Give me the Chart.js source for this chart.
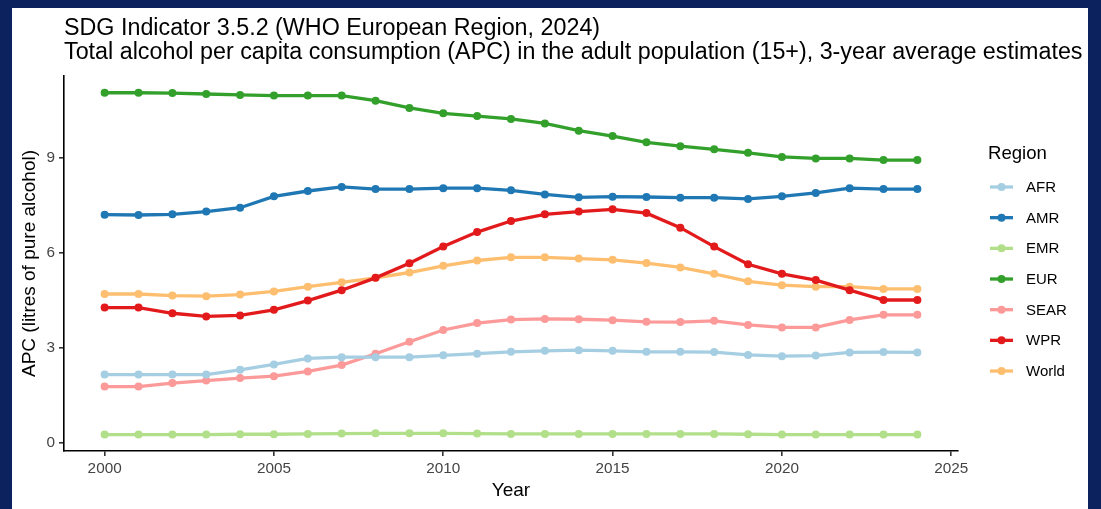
<!DOCTYPE html>
<html>
<head>
<meta charset="utf-8">
<script src="https://cdn.jsdelivr.net/npm/chart.js@4"></script>
<style>
  html, body { margin: 0; padding: 0; background: #0c225f; width: 1101px; height: 509px; overflow: hidden; }
  .panel { position: absolute; left: 12px; top: 8px; width: 1076px; height: 501px; background: #fff; }
  canvas { display: block; }
</style>
</head>
<body>
<div class="panel"><canvas id="myChart" width="1076" height="501"></canvas></div>
<script>
// years and regional APC values (litres of pure alcohol)
const years = [2000,2001,2002,2003,2004,2005,2006,2007,2008,2009,2010,2011,2012,2013,2014,2015,2016,2017,2018,2019,2020,2021,2022,2023,2024]

const afr  = [2.15,2.15,2.15,2.15,2.30,2.47,2.66,2.70,2.70,2.70,2.76,2.81,2.87,2.90,2.92,2.90,2.87,2.87,2.86,2.77,2.73,2.75,2.85,2.86,2.85]
const amr  = [7.21,7.20,7.22,7.31,7.43,7.79,7.96,8.09,8.02,8.02,8.05,8.05,7.98,7.85,7.76,7.78,7.77,7.75,7.75,7.71,7.79,7.90,8.05,8.02,8.02]
const emr  = [0.25,0.25,0.25,0.25,0.26,0.26,0.27,0.28,0.29,0.29,0.29,0.28,0.27,0.27,0.27,0.27,0.27,0.27,0.27,0.26,0.25,0.25,0.25,0.25,0.25]
const eur  = [11.07,11.07,11.06,11.03,11.00,10.98,10.98,10.98,10.82,10.59,10.42,10.33,10.24,10.10,9.87,9.70,9.50,9.38,9.28,9.17,9.04,8.99,8.99,8.94,8.94]
const sear = [1.77,1.77,1.88,1.96,2.04,2.10,2.25,2.45,2.81,3.19,3.56,3.78,3.89,3.91,3.90,3.87,3.82,3.81,3.85,3.72,3.64,3.64,3.88,4.04,4.04]
const wpr  = [4.27,4.27,4.09,3.99,4.02,4.20,4.49,4.82,5.21,5.67,6.20,6.66,7.01,7.22,7.31,7.38,7.26,6.80,6.20,5.64,5.34,5.14,4.82,4.51,4.51]
const world= [4.70,4.70,4.65,4.63,4.68,4.78,4.93,5.07,5.21,5.38,5.59,5.76,5.86,5.86,5.82,5.78,5.68,5.54,5.34,5.10,4.98,4.93,4.93,4.86,4.86]

const regions = ["AFR","AMR","EMR","EUR","SEAR","WPR","World"]
const series = [afr, amr, emr, eur, sear, wpr, world]
const colors = ["#a6cee3","#1f78b4","#b2df8a","#33a02c","#fb9a99","#e31a1c","#fdbf6f"]

const xTicks = [2000,2005,2010,2015,2020,2025]
const yTicks = [0,3,6,9]

const titleLines = ["SDG Indicator 3.5.2 (WHO European Region, 2024)",
  "Total alcohol per capita consumption (APC) in the adult population (15+), 3-year average estimates"]

const FONT = "'Liberation Sans', Arial, Helvetica, sans-serif"

// title + legend drawn by hand to get the ggplot look
const extras = {
  id: 'extras',
  afterDraw(chart){
    const ctx = chart.ctx
    const area = chart.chartArea
    ctx.save()
    ctx.fillStyle = '#000'
    ctx.font = '23.3px ' + FONT
    ctx.textBaseline = 'alphabetic'
    ctx.textAlign = 'left'
    ctx.fillText(titleLines[0], area.left, 27)
    ctx.fillText(titleLines[1], area.left, 51)

    // legend
    ctx.font = '18.6px ' + FONT
    ctx.textBaseline = 'middle'
    ctx.fillText('Region', 976, 146)
    ctx.font = '15px ' + FONT
    for (let i = 0; i < regions.length; i++) {
      let y = 179 + i * 30.67
      ctx.strokeStyle = colors[i]
      ctx.lineWidth = 3.3
      ctx.beginPath()
      ctx.moveTo(978, y)
      ctx.lineTo(1001, y)
      ctx.stroke()
      ctx.fillStyle = colors[i]
      ctx.beginPath()
      ctx.arc(989.5, y, 4, 0, Math.PI * 2)
      ctx.fill()
      ctx.fillStyle = '#000'
      ctx.fillText(regions[i], 1014, y + 1)
    }
    ctx.restore()
  }
}

let datasets = regions.map((name, i) => ({
  label: name,
  data: years.map((yr, j) => ({x: yr, y: series[i][j]})),
  borderColor: colors[i],
  backgroundColor: colors[i],
  borderWidth: 3.3,
  pointRadius: 4,
  pointBorderWidth: 0,
  pointHoverRadius: 4,
  tension: 0
}))

new Chart(document.getElementById('myChart'), {
  type: 'line',
  data: { datasets: datasets },
  plugins: [extras],
  options: {
    responsive: false,
    animation: false,
    events: [],
    layout: { padding: { top: 68, right: 130, left: 0, bottom: 0 } },
    plugins: { legend: { display: false }, tooltip: { enabled: false } },
    scales: {
      x: {
        type: 'linear',
        min: 1998.8,
        max: 2025.2,
        afterFit: s => { s.height = 58 },
        afterBuildTicks: s => { s.ticks = xTicks.map(v => ({value: v})) },
        border: { display: true, color: '#000', width: 1.6 },
        grid: { drawOnChartArea: false, drawTicks: true, tickLength: 5, color: '#333', lineWidth: 1.6 },
        ticks: { padding: 4, color: '#444', font: { family: FONT, size: 15.3 }, maxRotation: 0, callback: v => String(v) },
        title: { display: true, text: 'Year', color: '#000', font: { family: FONT, size: 19 }, padding: { top: 0, bottom: 6.5 } }
      },
      y: {
        min: -0.27,
        max: 11.6,
        afterFit: s => { s.width = 52 },
        afterBuildTicks: s => { s.ticks = yTicks.map(v => ({value: v})) },
        border: { display: true, color: '#000', width: 1.6 },
        grid: { drawOnChartArea: false, drawTicks: true, tickLength: 5, color: '#333', lineWidth: 1.6 },
        ticks: { padding: 4, color: '#444', font: { family: FONT, size: 15.3 } },
        title: { display: true, text: 'APC (litres of pure alcohol)', color: '#000', font: { family: FONT, size: 19 }, padding: { top: 6.5, bottom: 0 } }
      }
    }
  }
})
</script>
</body>
</html>
